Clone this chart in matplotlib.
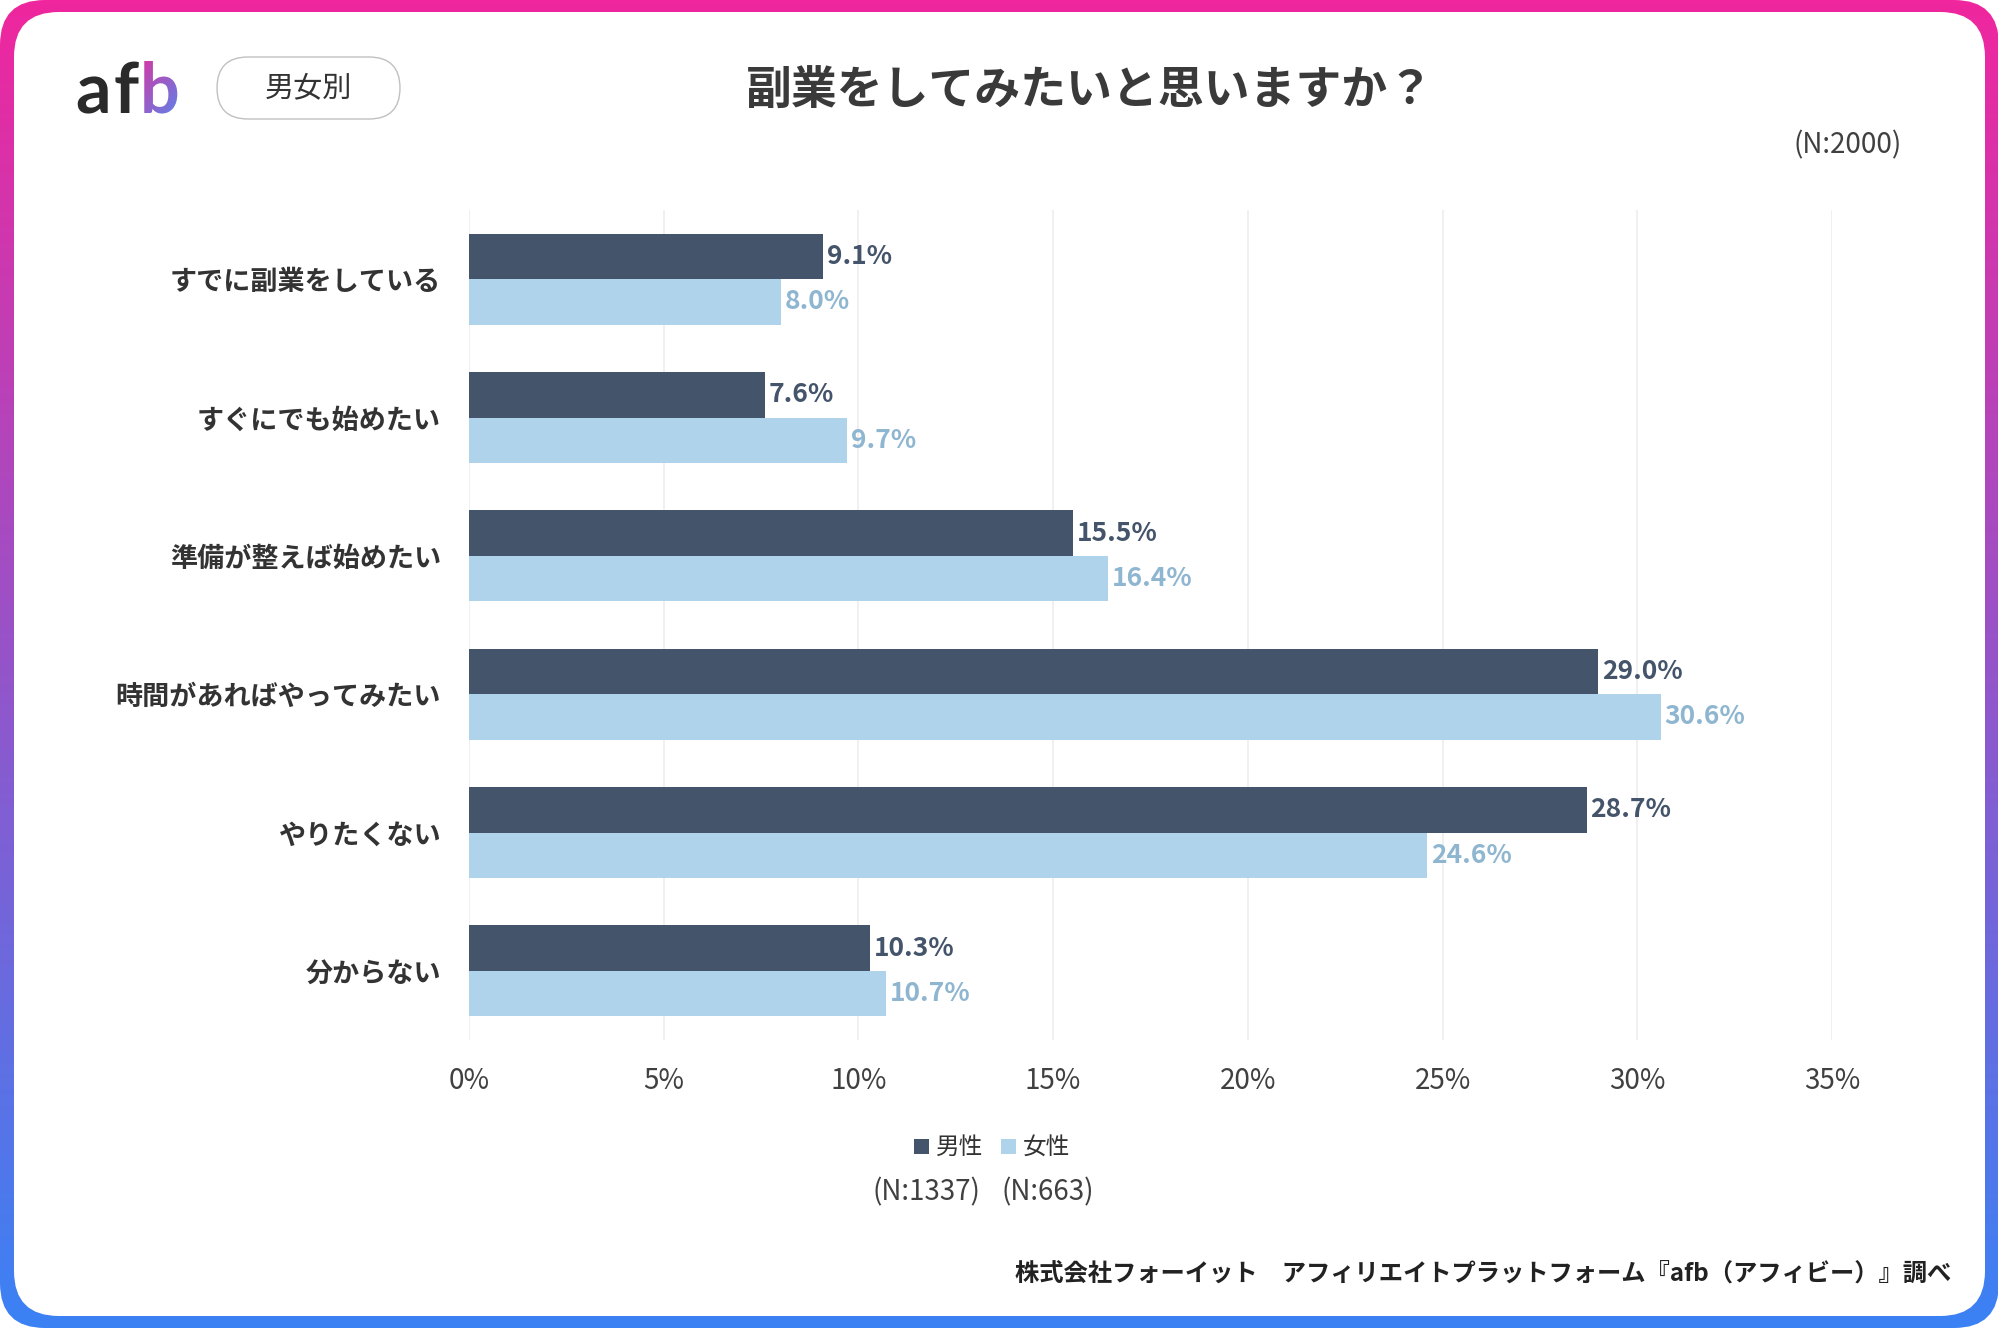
import numpy as np
import matplotlib.pyplot as plt
from matplotlib.patches import FancyBboxPatch, Rectangle, PathPatch
from matplotlib.textpath import TextPath
from matplotlib.font_manager import FontProperties
from matplotlib.transforms import Affine2D

plt.rcParams['font.family'] = ['Noto Sans CJK JP', 'DejaVu Sans']

categories = ['すでに副業をしている', 'すぐにでも始めたい', '準備が整えば始めたい',
              '時間があればやってみたい', 'やりたくない', '分からない']
male = [9.1, 7.6, 15.5, 29.0, 28.7, 10.3]
female = [8.0, 9.7, 16.4, 30.6, 24.6, 10.7]
series_names = ['男性', '女性']
series_n = ['(N:1337)', '(N:663)']
xticks = [0, 5, 10, 15, 20, 25, 30, 35]

dark = '#44546a'
light = '#afd3ea'
dark_txt = '#44546a'
light_txt = '#8fb6d0'
W, H = 1999, 1328

fig = plt.figure(figsize=(W / 100, H / 100), dpi=100)

# background frame with gradient border
bg = fig.add_axes([0, 0, 1, 1], zorder=-1)
bg.set_xlim(0, W)
bg.set_ylim(H, 0)
bg.axis('off')
t = np.linspace(0, 1, 256)
c0 = np.array([0.94, 0.15, 0.62])
c1 = np.array([0.23, 0.51, 0.96])
grad = (c0[None, :] * (1 - t[:, None]) + c1[None, :] * t[:, None])[:, None, :]
outer = FancyBboxPatch((0, 0), W, H, boxstyle='round,pad=0,rounding_size=45',
                       fc='none', ec='none')
bg.add_patch(outer)
im = bg.imshow(grad, extent=[0, W, H, 0], aspect='auto')
im.set_clip_path(outer)
inner = FancyBboxPatch((14, 12), W - 28, H - 24,
                       boxstyle='round,pad=0,rounding_size=45', fc='white', ec='none')
bg.add_patch(inner)

# logo (letters placed one by one)
logo_font = FontProperties(family=['Lato', 'DejaVu Sans'], weight='bold')
flip = Affine2D().scale(1, -1)
for ch, lx in [('a', 76), ('f', 114)]:
    p = TextPath((0, 0), ch, size=70, prop=logo_font)
    bg.add_patch(PathPatch(p, transform=flip + Affine2D().translate(lx, 113) + bg.transData,
                           fc='#2a2a2a', ec='none', zorder=3))
bx = 140
p_b = TextPath((0, 0), 'b', size=70, prop=logo_font)
b_patch = PathPatch(p_b, transform=flip + Affine2D().translate(bx, 113) + bg.transData,
                    fc='none', ec='none')
bg.add_patch(b_patch)
gb = np.linspace(0, 1, 64)
ggrid = (gb[:, None] + gb[None, :]) / 2
lc0 = np.array([0.88, 0.19, 0.62])
lc1 = np.array([0.29, 0.56, 0.96])
logo_img = lc0 * (1 - ggrid[..., None]) + lc1 * ggrid[..., None]
bim = bg.imshow(logo_img, extent=[bx - 5, bx + 50, 120, 55], aspect='auto', zorder=3)
bim.set_clip_path(b_patch)
bg.set_xlim(0, W)
bg.set_ylim(H, 0)

# badge
bg.add_patch(FancyBboxPatch((217, 57), 183, 62, boxstyle='round,pad=0,rounding_size=31',
                            fc='white', ec='#c0c0c0', lw=1.0))
bg.text(308, 88, '男女別', fontsize=21, color='#333333', ha='center', va='center')

bg.text(1090, 92, '副業をしてみたいと思いますか？', fontsize=33, fontweight='bold',
        color='#3a3a3a', ha='center', va='center')
bg.text(1902, 145, '(N:2000)', fontsize=20, color='#404040', ha='right', va='center')

# main chart
ax = fig.add_axes([469 / W, 1 - 1040 / H, (1832 - 469) / W, (1040 - 210) / H])
ax.set_facecolor('none')
y = np.arange(len(categories))
h = 0.33
ax.barh(y - h / 2, male, height=h, color=dark, zorder=2)
ax.barh(y + h / 2, female, height=h, color=light, zorder=2)
for i in range(len(categories)):
    ax.text(male[i] + 0.1, y[i] - h / 2, f'{male[i]:.1f}%', fontsize=19, fontweight='bold',
            color=dark_txt, va='center', ha='left')
    ax.text(female[i] + 0.1, y[i] + h / 2, f'{female[i]:.1f}%', fontsize=19, fontweight='bold',
            color=light_txt, va='center', ha='left')

ax.set_xlim(0, 35)
ax.set_ylim(len(categories) - 0.5, -0.5)
ax.set_xticks(xticks)
ax.set_xticklabels([f'{v}%' for v in xticks])
ax.set_yticks(y)
ax.set_yticklabels(categories)
ax.tick_params(axis='x', length=0, pad=19, labelsize=20, labelcolor='#404040')
ax.tick_params(axis='y', length=0, pad=20, labelsize=19.5, labelcolor='#333333')
for lab in ax.get_yticklabels():
    lab.set_fontweight('bold')
ax.grid(axis='x', color='#eeeeee', lw=1.2, zorder=0)
ax.set_axisbelow(True)
for s in ax.spines.values():
    s.set_visible(False)

# legend
bg.add_patch(Rectangle((914, 1139), 15, 15, fc=dark, ec='none'))
bg.text(936, 1147, series_names[0], fontsize=17, color='#333333', va='center', ha='left')
bg.add_patch(Rectangle((1001, 1139), 15, 15, fc=light, ec='none'))
bg.text(1023, 1147, series_names[1], fontsize=17, color='#333333', va='center', ha='left')
bg.text(926, 1192, series_n[0], fontsize=20, color='#404040', va='center', ha='center')
bg.text(1048, 1192, series_n[1], fontsize=20, color='#404040', va='center', ha='center')

bg.text(1951, 1274, '株式会社フォーイット　アフィリエイトプラットフォーム『afb（アフィビー）』調べ',
        fontsize=17.5, fontweight='bold', color='#222222', ha='right', va='center')

fig.savefig('out.png', dpi=100)
